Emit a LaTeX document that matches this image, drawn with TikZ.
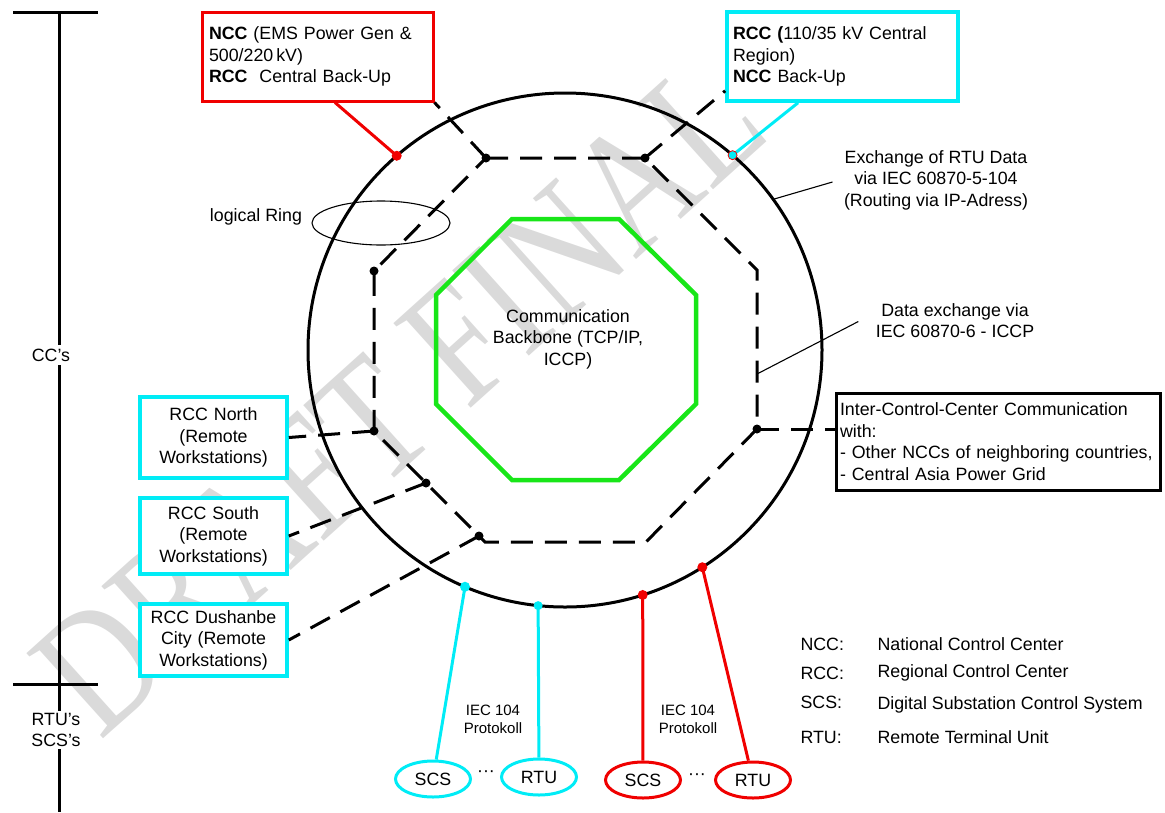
\documentclass[tikz,border=0pt]{standalone}
\usepackage{fontspec}
\setmainfont{Liberation Sans}
\newfontfamily\wmfont{Liberation Serif}
\usetikzlibrary{calc,shapes.geometric}

\definecolor{ccyan}{RGB}{0,236,246}
\definecolor{cred}{RGB}{240,0,0}
\definecolor{cgreen}{RGB}{24,230,24}
\definecolor{wmgrey}{RGB}{218,218,218}

\tikzset{
  every node/.style={font=\fontsize{17.8}{21.5}\selectfont},
  smalltxt/.style={font=\fontsize{15}{17.7}\selectfont, align=center},
  redbox/.style={draw=cred, line width=3pt, fill=white, inner ysep=0pt},
  cyanbox/.style={draw=ccyan, line width=3.6pt, fill=white, inner ysep=0pt},
  blackbox/.style={draw=black, line width=3pt, fill=white, inner ysep=0pt},
  ringline/.style={line width=3pt},
  ringdash/.style={line width=3pt, dash pattern=on 22pt off 12pt},
  leader/.style={line width=1.1pt},
  cyanlink/.style={draw=ccyan, line width=3pt},
  redlink/.style={draw=cred, line width=3pt},
  unit/.style={ellipse, line width=3pt, minimum width=75pt, minimum height=36pt, inner sep=0pt},
  junction/.style={circle, fill=black, inner sep=0pt, minimum size=9pt},
  tapred/.style={circle, fill=cred, inner sep=0pt, minimum size=10pt},
  tapcyan/.style={circle, fill=ccyan, inner sep=0pt, minimum size=10pt},
  axis/.style={line width=3pt},
}

\begin{document}
\begin{tikzpicture}[x=1pt,y=-1pt]
\useasboundingbox (0,0) rectangle (1165,812);

% watermark
\node[text=wmgrey, font=\wmfont\fontsize{175}{175}\selectfont, rotate=42, inner sep=0pt] (wm) at (399,396) {\scalebox{0.8}[1]{DRAFT FINAL}};

% left level axis
\draw[axis] (59,12) -- (59,812);
\draw[axis] (13,12) -- (98,12);
\draw[axis] (13,684) -- (98,684);
\node[fill=white, inner sep=4pt] (lcc) at (51,355) {CC’s};
\node[fill=white, align=center, minimum width=71pt, inner sep=2pt] (lrtu) at (56,730) {RTU’s\\SCS’s};

% communication ring (circle)
\coordinate (c) at (565,350);
\draw[ringline] (c) circle (257pt);

% taps on the circle
\path (c) ++(-130.9:257) coordinate (tN);
\path (c) ++(-49.3:257) coordinate (tR);
\path (c) ++(112.9:257) coordinate (tS1);
\path (c) ++(96:257) coordinate (tR1);
\path (c) ++(72.4:257) coordinate (tS2);
\path (c) ++(57.7:257) coordinate (tR2);
\path (c) ++(-35.9:257) coordinate (tX);

% logical ring (dashed octagon)
\coordinate (r1) at (486,158);
\coordinate (r2) at (645,158);
\coordinate (r3) at (757,270);
\coordinate (r4) at (757,429);
\coordinate (r5) at (646,542);
\coordinate (r6) at (485,542);
\coordinate (r7) at (374,431);
\coordinate (r8) at (374,271);
\draw[ringdash] (r1) -- (r2) -- (r3) -- (r4) -- (r5) -- (r6) -- (r7) -- (r8) -- cycle;
\coordinate (r34) at (757,374);

% communication backbone
\draw[cgreen, line width=4.5pt] (512,219) -- (619,219) -- (696,295) -- (696,404) -- (619,480) -- (512,480) -- (436,404) -- (436,295) -- cycle;
\node[align=center] (bb) at (568,339) {Communication\\Backbone (TCP/IP,\\ICCP)};

% control centre boxes
\node[redbox, text width=217pt, minimum height=89pt, inner xsep=7pt, align=left] (ncc) at (317.5,56.5)
  {\textbf{NCC} (EMS Power Gen \&\\500/220\,kV)\\\textbf{RCC}\ \ Central Back-Up};
\node[cyanbox, text width=219pt, minimum height=89pt, inner xsep=6pt, align=left] (rcct) at (842.5,56.5)
  {\textbf{RCC (}110/35 kV Central\\Region)\\\textbf{NCC} Back-Up};
\node[cyanbox, text width=139pt, minimum height=81pt, inner xsep=4pt, align=center] (rccn) at (213.5,437.5)
  {RCC North\\(Remote\\Workstations)};
\node[cyanbox, text width=139pt, minimum height=76pt, inner xsep=4pt, align=center] (rccs) at (213.5,536)
  {RCC South\\(Remote\\Workstations)};
\node[cyanbox, text width=139pt, minimum height=72pt, inner xsep=4pt, align=center] (rccd) at (213.5,640)
  {RCC Dushanbe\\City (Remote\\Workstations)};
\node[blackbox, text width=316pt, minimum height=97pt, inner xsep=4pt, align=left] (icc) at (998,441.5)
  {Inter-Control-Center Communication\\with:\\- Other NCCs of neighboring countries,\\- Central Asia Power Grid};

% junctions on the logical ring
\node[junction] (j1) at (r1) {};
\node[junction] (j2) at (r2) {};
\node[junction] (j8) at (r8) {};
\node[junction] (j7) at (r7) {};
\node[junction] (j4) at (r4) {};
\node[junction] (jS) at (426,483) {};
\node[junction] (jD) at (479,536) {};

% dashed links from the logical ring
\draw[ringdash] (j1.center) -- (ncc.south east);
\draw[ringdash] (j2.center) -- ([yshift=12pt]rcct.south west);
\draw[ringdash] (j7.center) -- (rccn.east);
\draw[ringdash] (jS.center) -- (rccs.east);
\draw[ringdash] (jD.center) -- (rccd.east);
\draw[ringdash] (j4.center) -- (icc.west |- j4);

% solid links to the circle
\coordinate (nccfoot) at ($(ncc.south)+(17.5,0)$);
\coordinate (rccfoot) at ($(rcct.south)+(-44.5,0)$);
\draw[redlink] (nccfoot) -- (tN);
\draw[cyanlink] (rccfoot) -- (tR);

% annotations
\node[align=center] (xch) at (936,180) {Exchange of RTU Data\\via IEC 60870-5-104\\(Routing via IP-Adress)};
\draw[leader] (tX) -- ([xshift=-8pt,yshift=-2pt]xch.west);
\node[align=center] (dex) at (955,320.5) {Data exchange via\\IEC 60870-6 - ICCP};
\draw[leader] (r34) -- ([xshift=-14pt,yshift=-1pt]dex.west);
\node (lrt) at (256,217) {logical Ring};
\node[ellipse, draw, line width=1.1pt, minimum width=138pt, minimum height=44pt] (lring) at (381,223) {};

% substations and RTUs
\node[unit, draw=ccyan] (scs1) at (433,779) {SCS};
\node[unit, draw=ccyan] (rtu1) at (539,777) {RTU};
\node[unit, draw=cred] (scs2) at (643,780) {SCS};
\node[unit, draw=cred] (rtu2) at (753,780) {RTU};
\node (dots1) at (486,774) {···};
\node (dots2) at (697,777) {···};
\draw[cyanlink] (tS1) -- (scs1);
\draw[cyanlink] (tR1) -- (rtu1);
\draw[redlink] (tS2) -- (scs2);
\draw[redlink] (tR2) -- (rtu2);
\node[tapcyan] (dS1) at (tS1) {};
\node[tapcyan, minimum size=9pt] (dR1) at (tR1) {};
\node[tapred] (dS2) at (tS2) {};
\node[tapred] (dR2) at (tR2) {};
\node[tapred] (dN) at (tN) {};
\node[tapcyan, draw=cred, line width=0.8pt, minimum size=9pt] (dR) at (tR) {};
\node[smalltxt] (p1) at (493,719) {IEC 104\\Protokoll};
\node[smalltxt] (p2) at (688,719) {IEC 104\\Protokoll};

% legend
\node[anchor=west] (k1) at (797,644) {NCC:};
\node[anchor=west] (k2) at (797,673) {RCC:};
\node[anchor=west] (k3) at (797,702) {SCS:};
\node[anchor=west] (k4) at (797,737) {RTU:};
\node[anchor=west] (d1) at (874,644) {National Control Center};
\node[anchor=west] (d2) at (874,673) {Regional Control Center};
\node[anchor=west] (d3) at (874,705) {Digital Substation Control System};
\node[anchor=west] (d4) at (874,737) {Remote Terminal Unit};
\end{tikzpicture}
\end{document}
